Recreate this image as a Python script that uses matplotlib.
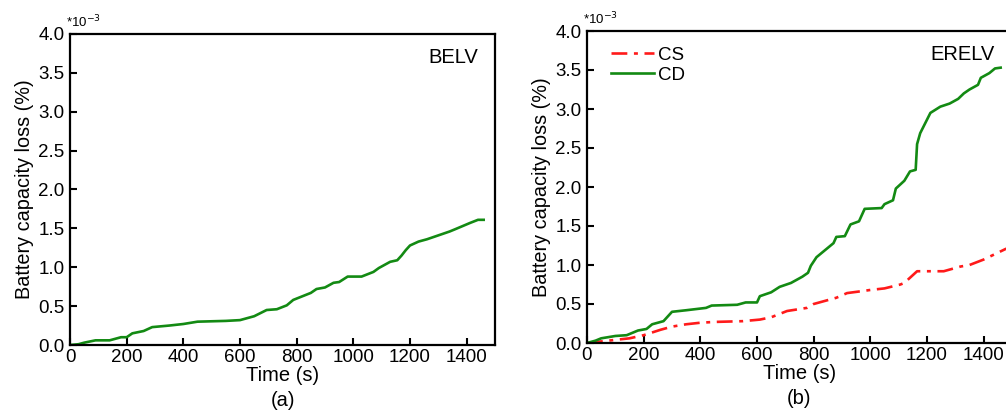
import matplotlib
matplotlib.use("Agg")
import matplotlib.pyplot as plt

plt.rcParams['font.family'] = ['Liberation Sans', 'DejaVu Sans']

# BELV (panel a), values in 1e-3 %
belv_t = [0, 30, 50, 90, 140, 180, 200, 220, 260, 290, 350, 400, 450, 550, 600, 610, 650,
          694, 730, 765, 788, 850, 870, 900, 930, 950, 980, 1029, 1071, 1090, 1130, 1155,
          1170, 1185, 1200, 1230, 1260, 1300, 1340, 1360, 1412, 1440, 1460]
belv_v = [0, 0.01, 0.03, 0.06, 0.06, 0.1, 0.1, 0.15, 0.18, 0.23, 0.25, 0.27, 0.3, 0.31, 0.32,
          0.33, 0.37, 0.45, 0.46, 0.51, 0.58, 0.67, 0.72, 0.74, 0.8, 0.81, 0.88, 0.88, 0.94,
          0.99, 1.07, 1.09, 1.15, 1.22, 1.28, 1.33, 1.36, 1.41, 1.46, 1.49, 1.57, 1.61, 1.61]

# ERELV (panel b)
cd_t = [0, 30, 50, 100, 140, 180, 210, 230, 270, 290, 300, 350, 420, 440, 530, 560, 600, 610,
        650, 680, 720, 760, 780, 790, 810, 850, 870, 880, 910, 930, 960, 980, 1040, 1050, 1080,
        1090, 1120, 1140, 1160, 1165, 1176, 1212, 1247, 1280, 1310, 1330, 1350, 1380, 1390,
        1420, 1440, 1460]
cd_v = [0, 0.03, 0.06, 0.09, 0.1, 0.16, 0.18, 0.24, 0.28, 0.36, 0.4, 0.42, 0.45, 0.48, 0.49,
        0.52, 0.52, 0.6, 0.65, 0.72, 0.77, 0.85, 0.9, 0.99, 1.1, 1.22, 1.28, 1.36, 1.37, 1.52,
        1.56, 1.72, 1.73, 1.78, 1.83, 1.98, 2.08, 2.2, 2.22, 2.55, 2.69, 2.95, 3.03, 3.07, 3.13,
        3.2, 3.25, 3.31, 3.4, 3.46, 3.52, 3.53]
cs_t = [0, 50, 100, 150, 200, 260, 300, 350, 400, 450, 550, 610, 650, 706, 776, 800, 820, 880,
        918, 960, 1000, 1050, 1106, 1120, 1165, 1180, 1259, 1318, 1350, 1400, 1440, 1480]
cs_v = [0, 0.02, 0.04, 0.06, 0.1, 0.17, 0.21, 0.24, 0.26, 0.27, 0.28, 0.30, 0.33, 0.41, 0.45,
        0.5, 0.52, 0.58, 0.64, 0.66, 0.68, 0.70, 0.75, 0.77, 0.92, 0.92, 0.92, 0.98, 1.0, 1.07,
        1.14, 1.21]

xticks = [0, 200, 400, 600, 800, 1000, 1200, 1400]
yticks = [0.0, 0.5, 1.0, 1.5, 2.0, 2.5, 3.0, 3.5, 4.0]

green = '#138a13'
red = '#ff1a1a'

fig = plt.figure(figsize=(10.06, 4.11), dpi=100)
W, H = 1006, 411
axw = 425 / W
ax1 = fig.add_axes([70 / W, 1 - 345 / H, axw, (345 - 34) / H])
ax2 = fig.add_axes([587 / W, 1 - 343 / H, axw, (343 - 31) / H])

ax1.plot(belv_t, belv_v, color=green, lw=1.9)
ax2.plot(cs_t, cs_v, color=red, lw=1.9, ls=(0, (6, 2.5, 1.5, 2.5)), label='CS')
ax2.plot(cd_t, cd_v, color=green, lw=1.9, label='CD')

for ax, lab, name in [(ax1, '(a)', 'BELV'), (ax2, '(b)', 'ERELV')]:
    ax.set_xlim(0, 1500)
    ax.set_ylim(0, 4.0)
    ax.set_xticks(xticks)
    ax.set_yticks(yticks)
    ax.set_yticklabels([f'{v:.1f}' for v in yticks])
    ax.tick_params(direction='in', length=5, width=1.5, labelsize=13.5)
    ax.tick_params(axis='x', pad=3)
    ax.tick_params(axis='y', pad=4)
    for s in ax.spines.values():
        s.set_linewidth(1.6)
    ax.set_xlabel('Time (s)', fontsize=14.5, labelpad=0)
    ax.set_ylabel('Battery capacity loss (%)', fontsize=14.3, labelpad=3)
    ax.text(0.5, -0.177, lab, transform=ax.transAxes, ha='center', va='center', fontsize=14.5)
    ax.text(-0.01, 1.012, r'*10$^{-3}$', transform=ax.transAxes, ha='left', va='bottom',
            fontsize=9.5)
    ax.text(0.96, 0.925, name, transform=ax.transAxes, ha='right', va='center', fontsize=14.5)

ax2.legend(loc='upper left', bbox_to_anchor=(0.03, 0.985), frameon=False, fontsize=13.5,
           handlelength=2.3, handletextpad=0.2, labelspacing=0.15, borderaxespad=0.2)

fig.savefig('out.png', dpi=100)
